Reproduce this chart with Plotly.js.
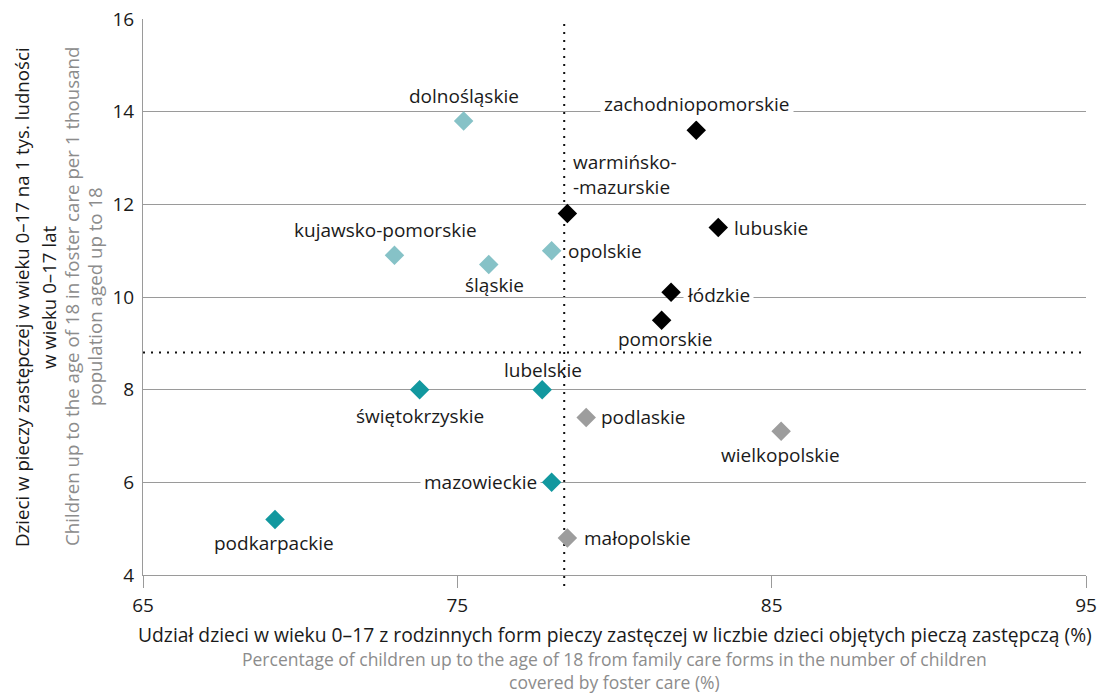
<!DOCTYPE html>
<html>
<head>
<meta charset="utf-8">
<script src="https://cdn.plot.ly/plotly-3.0.1.min.js"></script>
<style>html,body{margin:0;padding:0;background:#fff;}#chart{width:1107px;height:693px;}</style>
</head>
<body>
<div id="chart"></div>
<script>
// Data
const regions = ["dolnośląskie","kujawsko-pomorskie","śląskie","opolskie",
  "zachodniopomorskie","warmińsko-<br>-mazurskie","lubuskie","łódzkie","pomorskie",
  "świętokrzyskie","lubelskie","mazowieckie","podkarpackie",
  "podlaskie","wielkopolskie","małopolskie"];
const shareFamily = [75.2, 73.0, 76.0, 78.0, 82.6, 78.5, 83.3, 81.8, 81.5, 73.8, 77.7, 78.0, 69.2, 79.1, 85.3, 78.5];
const perThousand = [13.8, 10.9, 10.7, 11.0, 13.6, 11.8, 11.5, 10.1, 9.5, 8.0, 8.0, 6.0, 5.2, 7.4, 7.1, 4.8];
const groups = [0,0,0,0, 1,1,1,1,1, 2,2,2,2, 3,3,3];
const groupColors = ["#86c2c7", "#000000", "#12989f", "#9d9d9d"];
const xTicks = [65, 75, 85, 95];
const yTicks = [4, 6, 8, 10, 12, 14, 16];
const avgX = 78.4;
const avgY = 8.8;
const yTitlePL = ["Dzieci w pieczy zastępczej w wieku 0–17 na 1 tys. ludności", "w wieku 0–17 lat"];
const yTitleEN = ["Children up to the age of 18 in foster care per 1 thousand", "population aged up to 18"];
const xTitlePL = "Udział dzieci w wieku 0–17 z rodzinnych form pieczy zastęczej w liczbie dzieci objętych pieczą zastępczą (%)";
const xTitleEN = ["Percentage of children up to the age of 18 from family care forms in the number of children", "covered by foster care (%)"];

// label placement (pixel offsets) – style only
const lab = {
  "dolnośląskie": {xa:"center", dx:0, dy:25},
  "kujawsko-pomorskie": {xa:"center", dx:-9, dy:25},
  "śląskie": {xa:"center", dx:6, dy:-20},
  "opolskie": {xa:"left", dx:12, dy:0},
  "zachodniopomorskie": {xa:"center", dx:1, dy:26, bg:true},
  "warmińsko-<br>-mazurskie": {xa:"left", dx:2, dy:39},
  "lubuskie": {xa:"left", dx:12, dy:0},
  "łódzkie": {xa:"left", dx:12, dy:-3, bg:true},
  "pomorskie": {xa:"center", dx:3, dy:-19},
  "świętokrzyskie": {xa:"center", dx:0, dy:-26},
  "lubelskie": {xa:"center", dx:1, dy:20},
  "mazowieckie": {xa:"right", dx:-11, dy:0, bg:true},
  "podkarpackie": {xa:"center", dx:-1, dy:-24},
  "podlaskie": {xa:"left", dx:11, dy:0},
  "wielkopolskie": {xa:"center", dx:-1, dy:-24},
  "małopolskie": {xa:"left", dx:13, dy:0}
};

const FONT = "Open Sans, Noto Sans, sans-serif";
const LBL = 19;
const DARK = "#1a1a1a", GREY = "#8c8c8c";

const traces = [0,1,2,3].map(g => {
  const xs = [], ys = [], ts = [];
  regions.forEach((r,i) => { if (groups[i] === g) { xs.push(shareFamily[i]); ys.push(perThousand[i]); ts.push(r); } });
  return {
    type: "scatter", mode: "markers", x: xs, y: ys, text: ts,
    marker: {symbol: "diamond", size: 15, color: groupColors[g], line: {width: 0}},
    hoverinfo: "text+x+y", showlegend: false, cliponaxis: false
  };
});

const annotations = regions.map((r,i) => {
  const o = lab[r];
  return {
    x: shareFamily[i], y: perThousand[i], xref: "x", yref: "y",
    text: r, showarrow: false, xanchor: o.xa, yanchor: "middle",
    xshift: o.dx, yshift: o.dy, align: "left",
    font: {family: FONT, size: LBL, color: DARK},
    bgcolor: o.bg ? "#ffffff" : "rgba(0,0,0,0)", borderpad: 3
  };
});

function yLine(text, px, color) {
  return {xref:"paper", yref:"paper", x:(px-143)/943, y:0.5, xanchor:"center", yanchor:"middle",
    textangle:-90, showarrow:false, text:text, font:{family:FONT, size:18.7, color:color}};
}
function xLine(text, py, color, size) {
  return {xref:"paper", yref:"paper", x:0.5, y:(575-py)/556, xanchor:"center", yanchor:"middle",
    showarrow:false, text:text, borderpad:0, font:{family:FONT, size:size, color:color}};
}
annotations.push(
  yLine(yTitlePL[0], 21, DARK), yLine(yTitlePL[1], 48, DARK),
  yLine(yTitleEN[0], 71, GREY), yLine(yTitleEN[1], 94, GREY),
  xLine(xTitlePL, 634, DARK, 19.3),
  xLine(xTitleEN.join("<br>"), 670.5, GREY, 17.5)
);

const layout = {
  width: 1107, height: 693,
  margin: {l: 143, r: 21, t: 19, b: 118},
  paper_bgcolor: "#fff", plot_bgcolor: "#fff",
  font: {family: FONT, size: 19, color: DARK},
  xaxis: {
    range: [65, 95], tickvals: xTicks, showgrid: false, zeroline: false,
    showline: true, linecolor: "#9a9a9a", linewidth: 1,
    ticks: "outside", ticklen: 12, tickcolor: "#9a9a9a", ticklabelstandoff: 1,
    tickfont: {family: FONT, size: 19, color: DARK}, fixedrange: true
  },
  yaxis: {
    range: [4, 16], tickvals: yTicks, showgrid: true, gridcolor: "#9a9a9a", gridwidth: 1,
    zeroline: false, showline: true, linecolor: "#9a9a9a", linewidth: 1,
    ticks: "", ticklabelstandoff: 4,
    tickfont: {family: FONT, size: 19, color: DARK}, fixedrange: true
  },
  shapes: [
    {type:"line", xref:"x", yref:"paper", x0:avgX, x1:avgX, y0:-0.02, y1:1, line:{color:"#111", width:2, dash:"2px,6px"}, layer:"below"},
    {type:"line", xref:"paper", yref:"y", x0:0, x1:1, y0:avgY, y1:avgY, line:{color:"#111", width:2, dash:"2px,6px"}, layer:"below"}
  ],
  annotations: annotations,
  showlegend: false
};

Plotly.newPlot("chart", traces, layout, {displayModeBar: false, staticPlot: true});
</script>
</body>
</html>
